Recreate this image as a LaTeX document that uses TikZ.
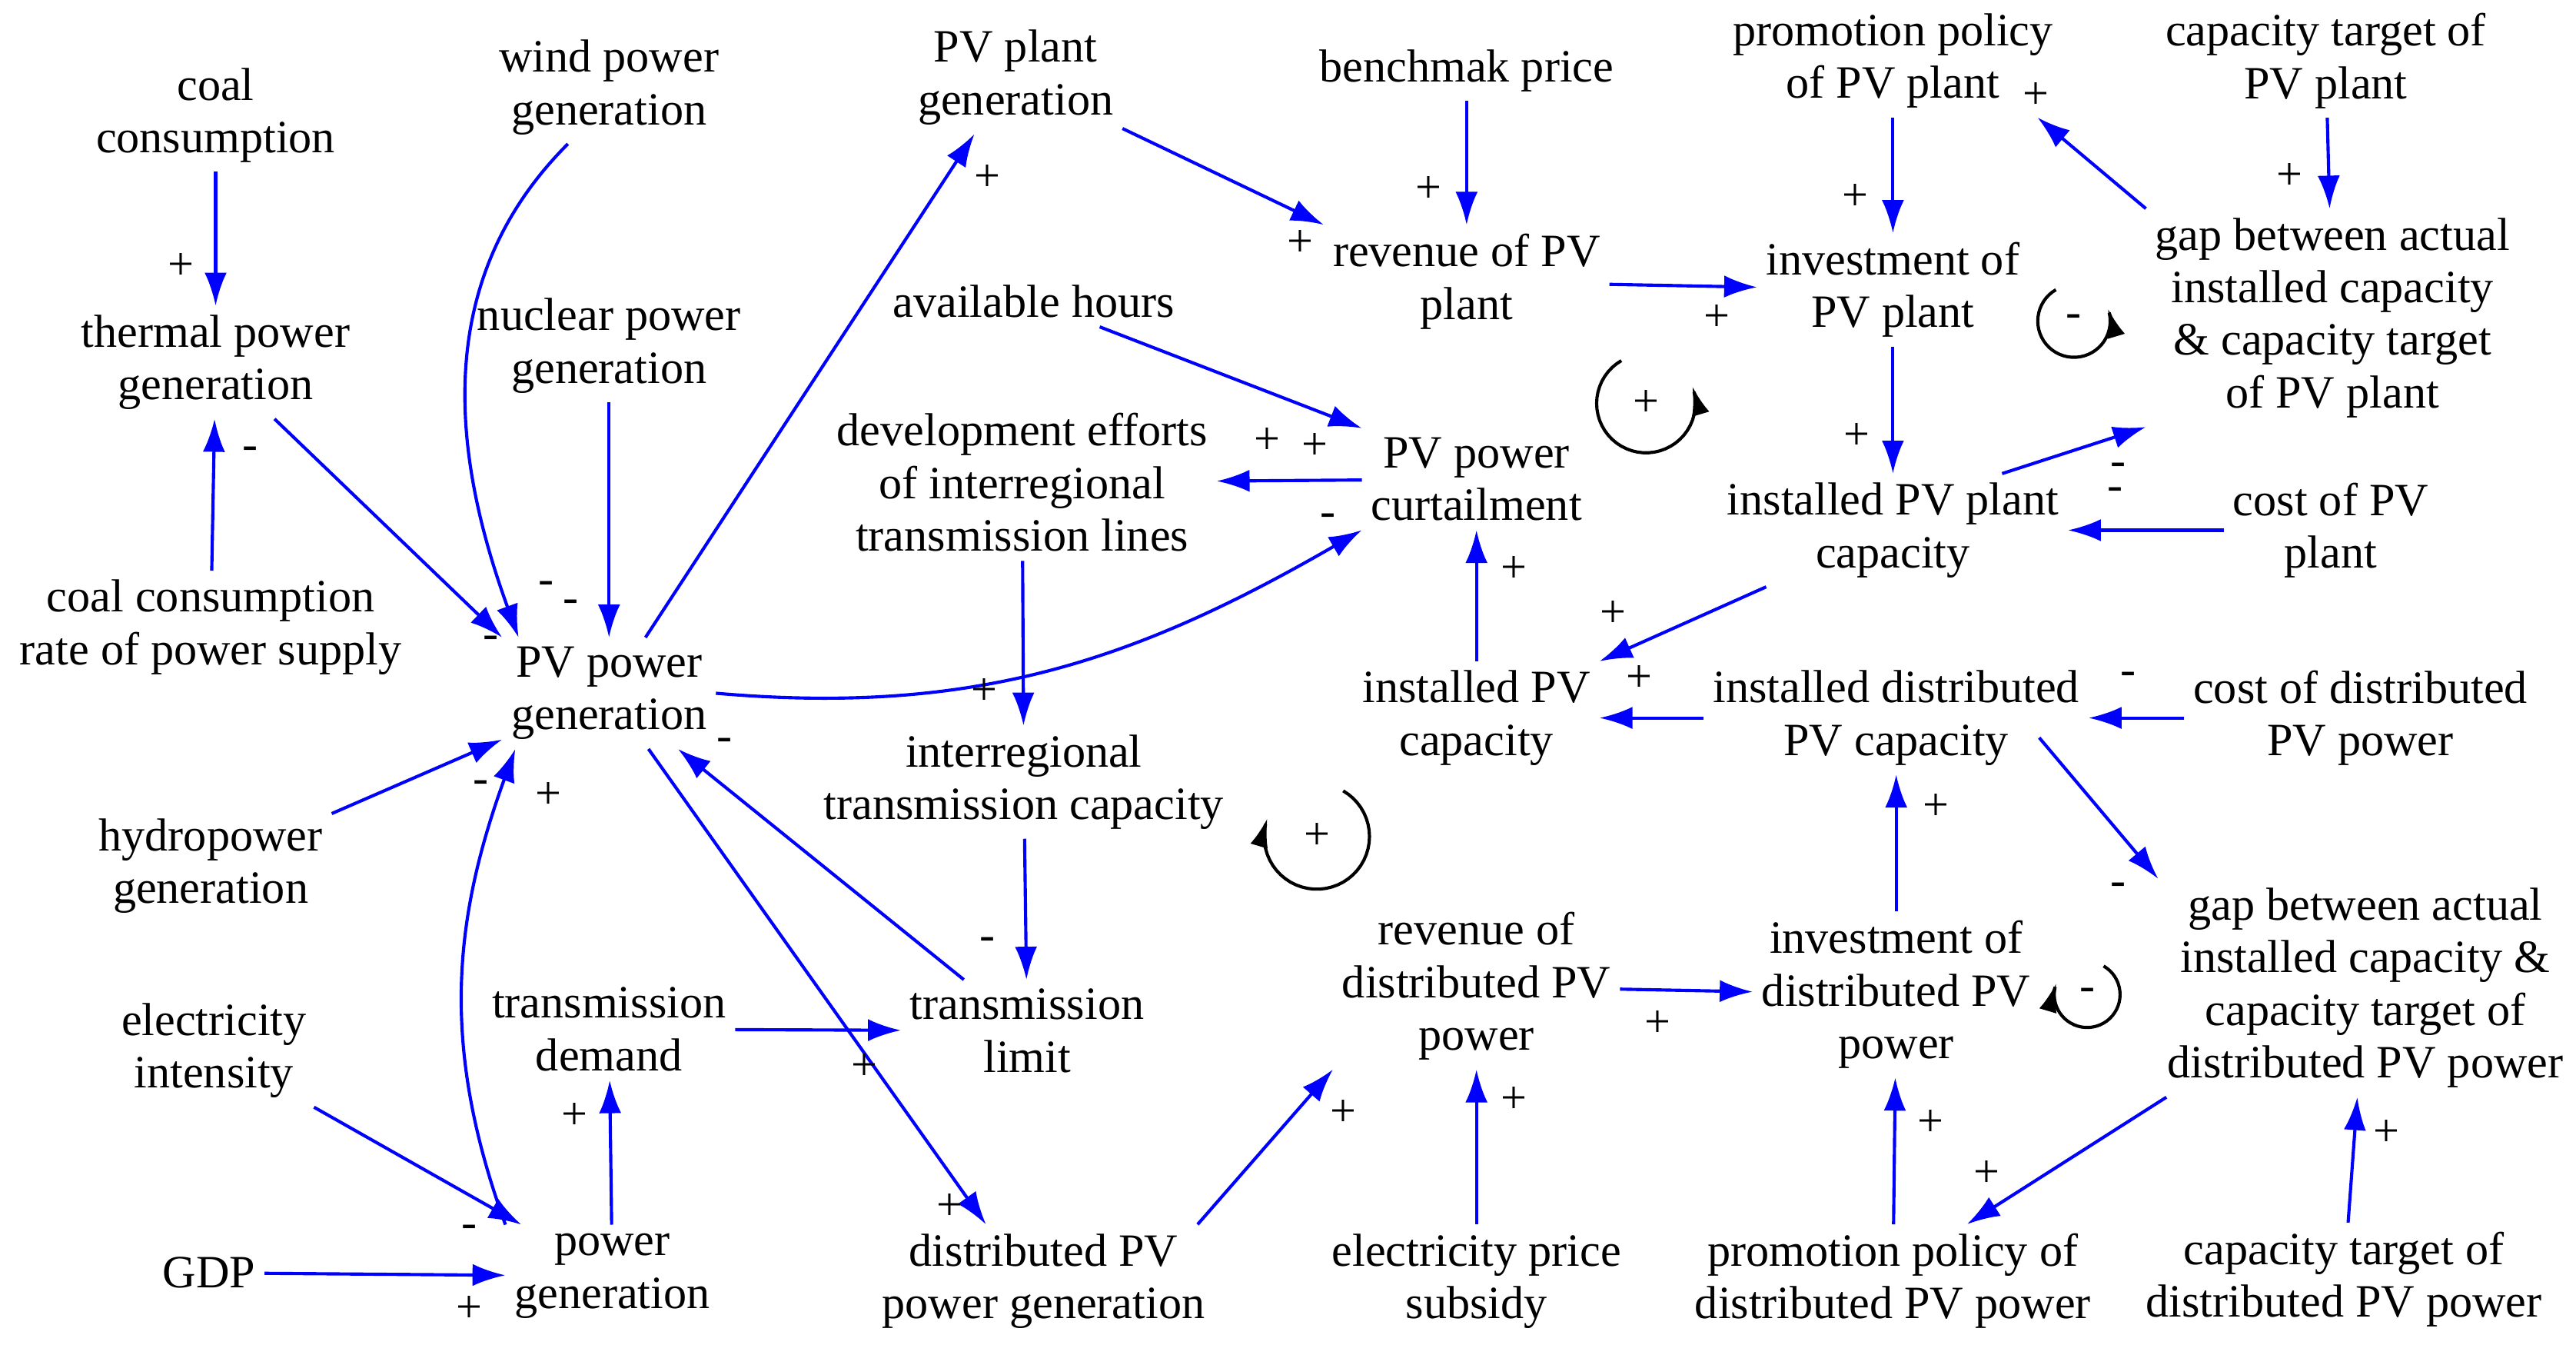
\documentclass[tikz,border=0pt]{standalone}
\usepackage{fontspec}
\setmainfont{Liberation Serif}
\usetikzlibrary{arrows.meta,calc}
\begin{document}
\begin{tikzpicture}[x=0.02cm,y=-0.02cm,
    v/.style={align=center, inner sep=3pt, font=\fontsize{16}{18.2}\selectfont},
    sg/.style={inner sep=0pt, font=\fontsize{16}{18.2}\selectfont},
    ar/.style={-{Latex[length=0.4cm,width=0.27cm]}, blue, line width=1.1pt},
    lp/.style={-{Latex[length=0.35cm,width=0.22cm]}, black, line width=1.1pt}
]
\useasboundingbox (0,0) rectangle (1565,816.8);
% variables
\node[v] (coal) at (131,70) {coal\\consumption};
\node[v] (therm) at (131,220) {thermal power\\generation};
\node[v] (rate) at (128,381) {coal consumption\\rate of power supply};
\node[v] (wind) at (370,53) {wind power\\generation};
\node[v] (nucl) at (370,210) {nuclear power\\generation};
\node[v] (pvg) at (370,421) {PV power\\generation};
\node[v] (hydro) at (128,526) {hydropower\\generation};
\node[v] (ei) at (130,638) {electricity\\intensity};
\node[v] (gdp) at (127,773) {GDP};
\node[v] (pg) at (372,775) {power\\generation};
\node[v] (td) at (370,625) {transmission\\demand};
\node[v] (pvpg) at (617,47) {PV plant\\generation};
\node[v] (ah) at (628,183) {available hours};
\node[v] (dev) at (621,293) {development efforts\\of interregional\\transmission lines};
\node[v] (itc) at (622,475) {interregional\\transmission capacity};
\node[v] (tl) at (624,626) {transmission\\limit};
\node[v] (dpg) at (634,778) {distributed PV\\power generation};
\node[v] (bp) at (891,43) {benchmak price};
\node[v] (rev) at (891,171) {revenue of PV\\plant};
\node[v] (curt) at (897,291) {PV power\\curtailment};
\node[v] (ipc) at (897,436) {installed PV\\capacity};
\node[v] (rdp) at (897,599) {revenue of\\distributed PV\\power};
\node[v] (eps) at (897,778) {electricity price\\subsidy};
\node[v] (pp) at (1150,37) {promotion policy\\of PV plant};
\node[v] (inv) at (1150,176) {investment of\\PV plant};
\node[v] (ippc) at (1150,322) {installed PV plant\\capacity};
\node[v] (idc) at (1152,436) {installed distributed\\PV capacity};
\node[v] (invd) at (1152,604) {investment of\\distributed PV\\power};
\node[v] (ppd) at (1150,778) {promotion policy of\\distributed PV power};
\node[v] (ct) at (1413,37) {capacity target of\\PV plant};
\node[v] (gap) at (1417,193) {gap between actual\\installed capacity\\\& capacity target\\of PV plant};
\node[v] (cpp) at (1416,322) {cost of PV\\plant};
\node[v] (cdp) at (1434,436) {cost of distributed\\PV power};
\node[v] (gapd) at (1437,600) {gap between actual\\installed capacity \&\\capacity target of\\distributed PV power};
\node[v] (ctd) at (1424,777) {capacity target of\\distributed PV power};
% links
\draw[ar] (coal) -- (therm);
\draw[ar] (rate) -- (therm);
\draw[ar] (therm) -- (pvg.north west);
\draw[ar] ($(wind.south)+(-25,0)$) to[out=225,in=110] ($(pvg.north west)+(10,0)$);
\draw[ar] (nucl) -- (pvg);
\draw[ar] (hydro) -- (pvg);
\draw[ar] (pg.north west) to[out=110,in=250] ($(pvg.south west)+(8,0)$);
\draw[ar] (pvg) -- ($(pvpg.south)+(-25,0)$);
\draw[ar] (pvg.east) to[out=-5,in=210] (curt.south west);
\draw[ar] (pvg) -- ($(dpg.north)+(-35,0)$);
\draw[ar] (tl) -- (pvg);
\draw[ar] (td) -- (tl);
\draw[ar] (pg) -- (td);
\draw[ar] (ei) -- (pg);
\draw[ar] (gdp) -- (pg);
\draw[ar] (pvpg) -- (rev.north west);
\draw[ar] (bp) -- (rev);
\draw[ar] (rev) -- (inv);
\draw[ar] (ah) -- (curt.north west);
\draw[ar] (curt) -- (dev);
\draw[ar] (dev) -- (itc);
\draw[ar] (itc) -- (tl);
\draw[ar] (ipc) -- (curt);
\draw[ar] (ippc) -- (ipc.north east);
\draw[ar] (idc) -- (ipc);
\draw[ar] (pp) -- (inv);
\draw[ar] (inv) -- (ippc);
\draw[ar] ($(ippc.north east)+(-40,0)$) -- (gap.south west);
\draw[ar] (gap.north west) -- ($(pp.south east)+(-15,0)$);
\draw[ar] (ct) -- (gap);
\draw[ar] (cpp) -- (ippc);
\draw[ar] (cdp) -- (idc);
\draw[ar] (invd) -- (idc);
\draw[ar] ($(idc.east)+(-30,12)$) -- (gapd.north west);
\draw[ar] ($(gapd.south west)+(5,0)$) -- ($(ppd.north)+(45,0)$);
\draw[ar] (ctd) -- (gapd);
\draw[ar] (ppd) -- (invd);
\draw[ar] (rdp) -- (invd);
\draw[ar] (eps) -- (rdp);
\draw[ar] ($(dpg.north east)+(-10,0)$) -- (rdp.south west);
% polarity signs
\foreach \p/\s [count=\i] in {
  (110,162)/+, (152,275)/-, (298,390)/-, (332,357)/-, (347,368)/-,
  (292,478)/-, (333,483)/+, (600,108)/+, (807,316)/-, (577,733)/+,
  (440,452)/-, (525,648)/+, (349,678)/+, (285,748)/-, (285,795)/+,
  (790,148)/+, (868,115)/+, (1043,193)/+, (799,271)/+, (770,268)/+,
  (598,420)/+, (600,573)/-, (920,346)/+, (980,373)/+, (996,412)/+,
  (1127,120)/+, (1128,265)/+, (1287,285)/-, (1237,58)/+, (1391,107)/+,
  (1285,300)/-, (1293,412)/-, (1176,490)/+, (1287,540)/-, (1207,713)/+,
  (1450,688)/+, (1173,682)/+, (1007,622)/+, (920,668)/+, (816,676)/+}
  \node[sg] (s\i) at \p {\s};
% loop markers
\node[sg] (l1) at (1000,245) {+};
\draw[lp] plot[domain=240:-20, samples=40] ({1000+30*cos(\x)},{245+30*sin(\x)});
\node[sg] (l2) at (1260,195) {-};
\draw[lp] plot[domain=240:-20, samples=40] ({1260+22*cos(\x)},{195+22*sin(\x)});
\node[sg] (l3) at (800,508) {+};
\draw[lp] plot[domain=-60:200, samples=40] ({800+32*cos(\x)},{508+32*sin(\x)});
\node[sg] (l4) at (1268,604) {-};
\draw[lp] plot[domain=-60:200, samples=40] ({1268+20*cos(\x)},{604+20*sin(\x)});
\end{tikzpicture}
\end{document}
